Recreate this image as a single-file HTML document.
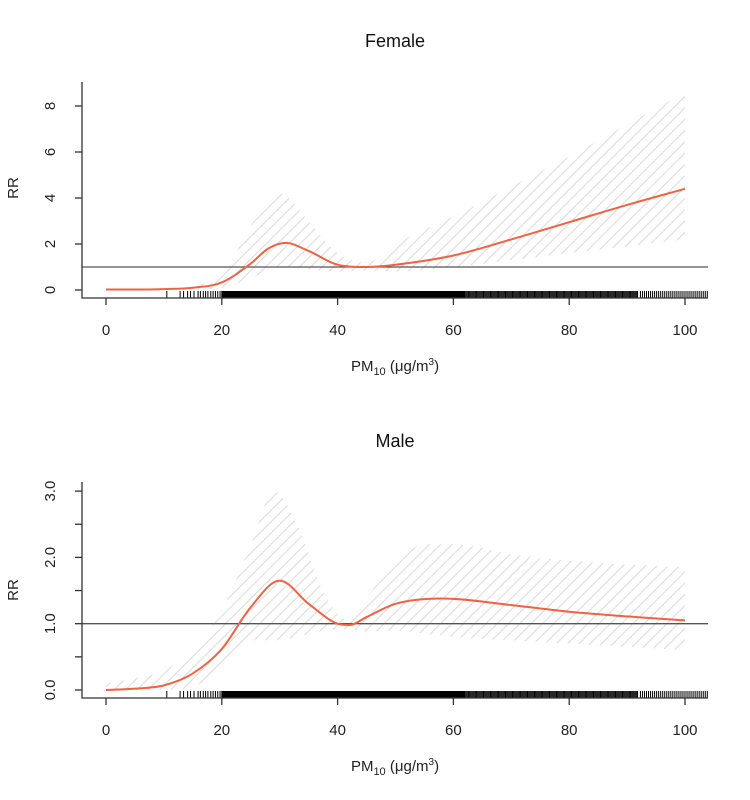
<!DOCTYPE html>
<html><head><meta charset="utf-8"><style>
html,body{margin:0;padding:0;background:#fff;}
svg{display:block;font-family:"Liberation Sans",sans-serif;}
</style></head><body>
<svg id="chart" width="750" height="800" viewBox="0 0 750 800" xmlns="http://www.w3.org/2000/svg">
<defs>
<pattern id="hatch" patternUnits="userSpaceOnUse" width="8" height="8" patternTransform="rotate(45)">
<line x1="0" y1="0" x2="0" y2="8" stroke="#dcdcdc" stroke-width="2.2"/>
</pattern>
</defs>
</svg>
<script>
// Female
const femX=[0,5,10,15,20,25,28,31,35,40,45,50,60,70,80,90,100];
const femFit=[0.02,0.02,0.04,0.1,0.33,1.15,1.8,2.05,1.7,1.1,1.0,1.1,1.5,2.2,2.95,3.7,4.4];
const bandX1=[15,20,25,30,35,40,45,50,60,70,80,90,100];
const femUp=[0.2,0.6,2.8,4.2,3.0,1.6,1.2,2.0,3.2,4.5,5.8,7.2,8.6];
const femLo=[0.02,0.1,0.5,1.0,0.9,0.8,0.85,0.8,1.0,1.3,1.6,1.9,2.2];
const femTicks=[0,2,4,6,8];
// Male
const maleX=[0,5,10,15,20,25,30,35,40,42,45,50,58,70,80,90,100];
const maleFit=[0.0,0.02,0.07,0.25,0.62,1.25,1.65,1.3,1.0,0.98,1.1,1.3,1.38,1.28,1.18,1.11,1.05];
const bandX2=[0,10,15,20,25,29,33,38,42,45,50,55,60,70,80,100];
const maleUp=[0.1,0.3,0.6,1.2,2.2,3.0,2.5,1.4,1.05,1.4,1.9,2.2,2.2,2.05,1.95,1.85];
const maleLo=[0,0,0.05,0.3,0.75,0.75,0.8,0.9,0.92,0.88,0.9,0.85,0.8,0.75,0.7,0.6];
const maleTicks=[0,0.5,1,1.5,2,2.5,3];
const maleTickLabels=["0.0","","1.0","","2.0","","3.0"];
const xTicks=[0,20,40,60,80,100];
const rugSparse=[10.5,12.8,13.4,14.1,14.6,15.2,15.9,16.3,16.8,17.2,17.6,18.1,18.5,18.9,19.3,19.7];
const rugDense=[]; for(let v=20;v<=62;v+=0.15) rugDense.push(+v.toFixed(2));
const rugMid=[]; for(let v=62.2;v<=92;v+=0.2) rugMid.push(+v.toFixed(2));
const rugEnd=[]; for(let v=92.3;v<=104;v+=0.35) rugEnd.push(+v.toFixed(2));
const rugX=rugSparse.concat(rugDense,rugMid,rugEnd);

const NS="http://www.w3.org/2000/svg";
const svg=document.getElementById('chart');
function mk(tag,attrs,parent){const e=document.createElementNS(NS,tag);for(const k in attrs)e.setAttribute(k,attrs[k]);(parent||svg).appendChild(e);return e;}
const sx=v=>106+v*5.79;
function mono(pts,moveTo){
  const n=pts.length;const xs=pts.map(p=>p[0]),ys=pts.map(p=>p[1]);
  const d=[],m=new Array(n);
  for(let i=0;i<n-1;i++)d.push((ys[i+1]-ys[i])/(xs[i+1]-xs[i]));
  m[0]=d[0];m[n-1]=d[n-2];
  for(let i=1;i<n-1;i++){m[i]=(d[i-1]*d[i]<=0)?0:(d[i-1]+d[i])/2;}
  for(let i=0;i<n-1;i++){if(d[i]===0){m[i]=0;m[i+1]=0;continue;}const a=m[i]/d[i],b=m[i+1]/d[i],s=a*a+b*b;if(s>9){const t=3/Math.sqrt(s);m[i]=t*a*d[i];m[i+1]=t*b*d[i];}}
  let p=(moveTo?"M":"L")+xs[0]+","+ys[0];
  for(let i=0;i<n-1;i++){const h=(xs[i+1]-xs[i])/3;p+=` C${xs[i]+h},${ys[i]+m[i]*h} ${xs[i+1]-h},${ys[i+1]-m[i+1]*h} ${xs[i+1]},${ys[i+1]}`;}
  return p;
}
function panel(o){
  const g=mk('g',{});
  
  
  const sy=v=>o.y0-v*o.k;
  const up=o.bx.map((x,i)=>[sx(x),sy(o.up[i])]);
  const lo=o.bx.map((x,i)=>[sx(x),sy(o.lo[i])]).reverse();
  const band=mk('path',{d:mono(up,true)+" "+mono(lo,false)+"Z",fill:"url(#hatch)"},g);
  
  
  const ref=mk('line',{x1:82,x2:708,y1:sy(1),y2:sy(1),stroke:"#555","stroke-width":1.3},g);
  
  
  const fit=mk('path',{d:mono(o.x.map((x,i)=>[sx(x),sy(o.fit[i])]),true),fill:"none",stroke:"#f26140","stroke-width":2},g);
  
  
  let rd="";rugX.forEach(v=>{rd+=`M${sx(v)},${o.ab-7}V${o.ab}`;});
  const rug=mk('path',{d:rd,stroke:"#000","stroke-width":1},g);
  
  
  const ya=mk('path',{d:`M82,${o.at}V${o.ab}H708`,stroke:"#333",fill:"none","stroke-width":1.3},g);
  
  
  o.ticks.forEach((t,i)=>{
    mk('line',{x1:75,x2:82,y1:sy(t),y2:sy(t),stroke:"#333","stroke-width":1.3},g);
    const lbl=o.labels[i];
    if(lbl!==""){const tx=mk('text',{x:0,y:0,transform:`translate(55,${sy(t)}) rotate(-90)`,"text-anchor":"middle","font-size":15,fill:"#222"},g);tx.textContent=lbl;
    
    }
  });
  xTicks.forEach(t=>{
    mk('line',{x1:sx(t),x2:sx(t),y1:o.ab,y2:o.ab+7,stroke:"#333","stroke-width":1.3},g);
    const tx=mk('text',{x:sx(t),y:o.ab+37,"text-anchor":"middle","font-size":15,fill:"#222"},g);tx.textContent=t;
    
    
  });
  const ti=mk('text',{x:395,y:o.ty,"text-anchor":"middle","font-size":18,fill:"#111"},g);ti.textContent=o.title;
  
  
  const yl=mk('text',{x:0,y:0,transform:`translate(18,${o.yly}) rotate(-90)`,"text-anchor":"middle","font-size":15,fill:"#222"},g);yl.textContent="RR";
  
  
  const xl=mk('text',{x:395,y:o.ab+73,"text-anchor":"middle","font-size":15,fill:"#222"},g);
  xl.innerHTML='PM<tspan font-size="11" dy="4">10</tspan><tspan dy="-4"> (μg/m</tspan><tspan font-size="10" dy="-6">3</tspan><tspan dy="6">)</tspan>';
  
  
}
panel({name:'female-panel',title:'Female',y0:290,k:23,at:82,ab:298,ty:47,yly:188,x:femX,fit:femFit,bx:bandX1,up:femUp,lo:femLo,ticks:femTicks,labels:femTicks.map(String)});
panel({name:'male-panel',title:'Male',y0:690,k:66.3,at:482,ab:698,ty:447,yly:590,x:maleX,fit:maleFit,bx:bandX2,up:maleUp,lo:maleLo,ticks:maleTicks,labels:maleTickLabels});
</script>
</body></html>
